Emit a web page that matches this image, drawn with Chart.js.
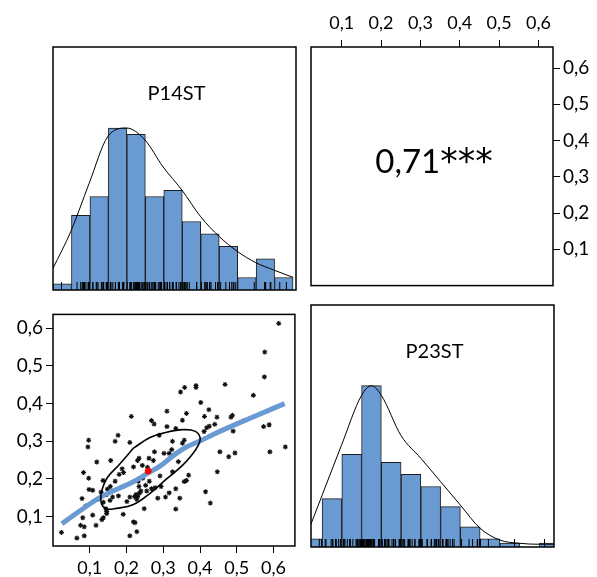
<!DOCTYPE html>
<html>
<head>
<meta charset="utf-8">
<script src="https://cdn.jsdelivr.net/npm/chart.js@4.4.1/dist/chart.umd.min.js"></script>
<style>
  body { margin: 0; background: #fff; }
  #wrap { position: relative; width: 597px; height: 577px; }
  canvas { position: absolute; }
</style>
</head>
<body>
<div id="wrap">
  <canvas id="histA" width="263" height="263" style="left:43px;top:37px"></canvas>
  <canvas id="corr" width="296" height="300" style="left:301px;top:0px"></canvas>
  <canvas id="scat" width="300" height="277" style="left:0px;top:300px"></canvas>
  <canvas id="histB" width="263" height="262" style="left:301px;top:295px"></canvas>
</div>
<script>
// variables and correlation
const varNames = ['P14ST', 'P23ST'];
const corrLabel = '0,71***';

// axis limits and ticks
const p14Range = [0, 0.658];
const p23Range = [0.022, 0.637];
const tickStep = 0.1;

// histogram bins (width 0.05) and counts
const binStarts = [0, 0.05, 0.1, 0.15, 0.2, 0.25, 0.3, 0.35, 0.4, 0.45, 0.5, 0.55, 0.6];
const binWidth = 0.05;
const p14Counts = [1, 12, 15, 26, 25, 15, 16, 11, 9, 7, 2, 5, 2];
const p23Counts = [2, 12, 23, 40, 21, 18, 15, 10, 5, 2, 1, 0, 1];

// density curves (scaled so max = 1)
const p14DensX = [0, 0.048, 0.098, 0.148, 0.199, 0.249, 0.298, 0.349, 0.4, 0.45, 0.5, 0.549, 0.598, 0.65];
const p14DensY = [0.134, 0.36, 0.659, 0.946, 1.0, 0.926, 0.76, 0.617, 0.452, 0.33, 0.237, 0.169, 0.123, 0.078];
const p23DensX = [0.021, 0.05, 0.099, 0.15, 0.175, 0.2, 0.25, 0.3, 0.35, 0.4, 0.45, 0.5, 0.55, 0.6, 0.637];
const p23DensY = [0.136, 0.32, 0.63, 0.94, 1.0, 0.94, 0.69, 0.55, 0.405, 0.26, 0.116, 0.043, 0.023, 0.017, 0.017];

// observations
const p14 = [0.614,0.576,0.575,0.468,0.389,0.389,0.358,0.347,0.545,0.402,
  0.424,0.310,0.363,0.412,0.213,0.446,0.484,0.488,0.268,0.275,
  0.352,0.310,0.334,0.418,0.425,0.440,0.573,0.588,0.490,0.454,
  0.478,0.495,0.590,0.632,0.447,0.415,0.428,0.177,0.097,0.169,
  0.209,0.095,0.119,0.157,0.083,0.097,0.188,0.180,0.192,0.136,
  0.169,0.156,0.148,0.098,0.108,0.145,0.079,0.162,0.178,0.122,
  0.155,0.137,0.209,0.201,0.131,0.089,0.144,0.146,0.146,0.191,
  0.108,0.081,0.137,0.075,0.085,0.117,0.133,0.219,0.023,0.065,
  0.085,0.209,0.222,0.289,0.325,0.357,0.352,0.276,0.302,0.316,
  0.323,0.234,0.230,0.261,0.273,0.341,0.243,0.219,0.257,0.325,
  0.291,0.369,0.244,0.232,0.262,0.357,0.363,0.252,0.234,0.278,
  0.294,0.268,0.334,0.316,0.255,0.239,0.235,0.226,0.230,0.306,
  0.285,0.345,0.228,0.248,0.334,0.223,0.228,0.411];
const p23 = [0.613,0.537,0.471,0.451,0.448,0.443,0.443,0.431,0.422,0.403,
  0.384,0.380,0.374,0.366,0.366,0.364,0.364,0.369,0.355,0.346,
  0.356,0.339,0.334,0.336,0.340,0.345,0.339,0.344,0.327,0.272,
  0.259,0.269,0.272,0.285,0.219,0.166,0.136,0.316,0.303,0.300,
  0.297,0.285,0.245,0.249,0.217,0.202,0.227,0.212,0.217,0.196,
  0.194,0.180,0.173,0.172,0.170,0.158,0.148,0.152,0.155,0.146,
  0.143,0.138,0.152,0.140,0.165,0.128,0.121,0.114,0.108,0.106,
  0.104,0.097,0.097,0.077,0.073,0.077,0.092,0.086,0.058,0.043,
  0.049,0.049,0.153,0.316,0.300,0.303,0.295,0.272,0.268,0.268,
  0.278,0.255,0.249,0.255,0.249,0.246,0.236,0.232,0.231,0.219,
  0.208,0.210,0.202,0.194,0.194,0.193,0.196,0.183,0.180,0.177,
  0.180,0.174,0.174,0.163,0.168,0.168,0.162,0.159,0.153,0.152,
  0.149,0.149,0.146,0.121,0.120,0.084,0.060,0.326];

// loess smoother
const smoothX = [0.024, 0.126, 0.221, 0.259, 0.291, 0.327, 0.363, 0.400, 0.440, 0.533, 0.630];
const smoothY = [0.081, 0.150, 0.194, 0.216, 0.234, 0.262, 0.285, 0.301, 0.320, 0.360, 0.400];

// correlation ellipse outline and centre
const ellipseX = [0.219, 0.264, 0.309, 0.354, 0.386, 0.400, 0.395, 0.377, 0.350, 0.309, 0.264, 0.219, 0.166, 0.148, 0.135, 0.130, 0.133, 0.148, 0.180, 0.219];
const ellipseY = [0.282, 0.310, 0.324, 0.331, 0.327, 0.310, 0.289, 0.263, 0.234, 0.200, 0.162, 0.132, 0.121, 0.120, 0.128, 0.145, 0.170, 0.204, 0.238, 0.282];
const meanX = [0.259];
const meanY = [0.221];

const blue = '#6a9ad2';
const fmt = v => v.toFixed(1).replace('.', ',');
const pts = (xs, ys) => xs.map((x, i) => ({ x: x, y: ys[i] }));

// black box around each panel
const frame = {
  id: 'frame',
  afterDraw(chart) {
    const { ctx, chartArea: a } = chart;
    ctx.save();
    ctx.strokeStyle = '#000';
    ctx.lineWidth = 1.5;
    ctx.strokeRect(a.left, a.top, a.right - a.left, a.bottom - a.top);
    ctx.restore();
  }
};

// text inside a panel; the stars part of a label gets its own bigger font
const panelText = {
  id: 'panelText',
  afterDatasetsDraw(chart, args, opts) {
    if (!opts.text) return;
    const { ctx, chartArea: a } = chart;
    const cut = opts.text.indexOf('*');
    const main = cut < 0 ? opts.text : opts.text.slice(0, cut);
    const stars = cut < 0 ? '' : opts.text.slice(cut);
    const mainFont = opts.size + 'px Lato';
    const starFont = Math.round(opts.size * 1.05) + 'px "DejaVu Sans"';
    ctx.save();
    ctx.fillStyle = '#000';
    ctx.textBaseline = 'alphabetic';
    ctx.textAlign = 'left';
    ctx.font = mainFont;
    const w1 = ctx.measureText(main).width;
    ctx.font = starFont;
    const w2 = stars ? ctx.measureText(stars).width : 0;
    const x0 = (a.left + a.right) / 2 + (opts.dx || 0) - (w1 + w2) / 2;
    const y0 = a.top + opts.base;
    ctx.font = mainFont;
    ctx.fillText(main, x0, y0);
    if (stars) {
      ctx.font = starFont;
      ctx.fillText(stars, x0 + w1, y0);
    }
    ctx.restore();
  }
};

function axis(range, position, size, show) {
  const horiz = position === 'top' || position === 'bottom';
  return {
    type: 'linear',
    position: position,
    min: range[0],
    max: range[1],
    offset: false,
    display: show,
    border: { display: false },
    grid: { drawOnChartArea: false, color: '#000', tickColor: '#000', tickLength: 7, offset: false },
    ticks: {
      stepSize: tickStep, includeBounds: false, autoSkip: false, maxRotation: 0,
      color: '#000', font: { family: 'Lato', size: horiz ? 18 : 19 },
      padding: position === 'top' ? 6 : (position === 'bottom' ? 4 : 3),
      callback: v => fmt(v)
    },
    // no tick at 0
    afterBuildTicks: s => { s.ticks = s.ticks.filter(t => t.value > tickStep / 2); },
    afterFit: s => { if (size) { if (s.isHorizontal()) s.height = size; else s.width = size; } }
  };
}

function histChart(id, name, values, counts, densX, densY, range, panelPx) {
  const maxCount = Math.max(...counts);
  const bars = binStarts.map((b, i) => ({ x: b + binWidth / 2, y: counts[i] / maxCount }));
  const rugY = 1.5 * 4 / panelPx;
  return new Chart(document.getElementById(id), {
    type: 'bar',
    data: {
      datasets: [
        {
          type: 'scatter', data: values.map(v => ({ x: v, y: rugY })),
          pointStyle: 'line', pointRotation: 90, pointRadius: 4,
          pointBorderColor: '#000', pointBorderWidth: 1, order: 1
        },
        {
          type: 'line', data: pts(densX, densY), borderColor: '#000', borderWidth: 1,
          pointRadius: 0, cubicInterpolationMode: 'monotone', order: 2
        },
        {
          data: bars, backgroundColor: blue, borderColor: '#1e1e1e', borderWidth: 1,
          barPercentage: 1, categoryPercentage: 1, order: 3
        }
      ]
    },
    options: {
      responsive: false, animation: false, devicePixelRatio: 1,
      layout: { padding: 10 },
      scales: {
        x: axis(range, 'bottom', 0, false),
        y: { type: 'linear', min: 0, max: 1.5, display: false }
      },
      plugins: {
        legend: { display: false }, tooltip: { enabled: false },
        panelText: { text: name, size: 20, base: 53, dx: 2 }
      }
    },
    plugins: [frame, panelText]
  });
}

histChart('histA', varNames[0], p14, p14Counts, p14DensX, p14DensY, p14Range, 243);
histChart('histB', varNames[1], p23, p23Counts, p23DensX, p23DensY, p23Range, 242);

// upper panel: correlation with axes on top and right
new Chart(document.getElementById('corr'), {
  type: 'scatter',
  data: { datasets: [] },
  options: {
    responsive: false, animation: false, devicePixelRatio: 1,
    layout: { padding: { left: 10, bottom: 11, top: 0, right: 0 } },
    scales: {
      x: axis(p23Range, 'top', 47, true),
      y: axis(p14Range, 'right', 44, true)
    },
    plugins: {
      legend: { display: false }, tooltip: { enabled: false },
      panelText: { text: corrLabel, size: 33, base: 126, dx: 2 }
    }
  },
  plugins: [frame, panelText]
});

// lower panel: scatter, smoother, ellipse
new Chart(document.getElementById('scat'), {
  type: 'scatter',
  data: {
    datasets: [
      {
        data: pts(meanX, meanY), pointStyle: 'circle', pointRadius: 3,
        pointBackgroundColor: '#ff0000', pointBorderColor: '#ff0000', order: 1
      },
      {
        type: 'line', data: pts(ellipseX, ellipseY), borderColor: '#000', borderWidth: 1.6,
        pointRadius: 0, tension: 0.4, order: 2
      },
      {
        type: 'line', data: pts(smoothX, smoothY), borderColor: blue, borderWidth: 5,
        pointRadius: 0, cubicInterpolationMode: 'monotone', order: 3
      },
      {
        data: pts(p14, p23), pointStyle: 'star', pointRadius: 2.5,
        pointBorderColor: '#111', pointBorderWidth: 1.1, order: 4
      }
    ]
  },
  options: {
    responsive: false, animation: false, devicePixelRatio: 1,
    layout: { padding: { left: 0, bottom: 0, top: 5, right: 4 } },
    scales: {
      x: axis(p14Range, 'bottom', 31, true),
      y: axis(p23Range, 'left', 53, true)
    },
    plugins: { legend: { display: false }, tooltip: { enabled: false } }
  },
  plugins: [frame]
});
</script>
</body>
</html>
